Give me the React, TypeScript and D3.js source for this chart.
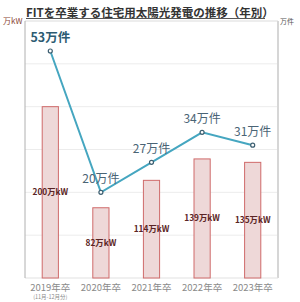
import React from "react";
import * as d3 from "d3";

const years = ["2019年卒", "2020年卒", "2021年卒", "2022年卒", "2023年卒"];
const subLabels = ["(11月-12月分)", "", "", "", ""];
const capacity = [200, 82, 114, 139, 135];
const counts = [53, 20, 27, 34, 31];
const leftTicks = [0, 50, 100, 150, 200, 250, 300];

const W = 300;
const H = 302;
const L = 25;
const R = 278;
const T = 21;
const B = 278;
const FONT = "'Noto Sans CJK JP', 'Noto Sans', sans-serif";

export default function App() {
  const x = d3.scaleBand<string>().domain(years).range([L, R]).padding(0);
  const yL = d3.scaleLinear().domain([0, 300]).range([B, T]);
  const yR = d3.scaleLinear().domain([0, 60]).range([B, T]);
  const bw = x.bandwidth() * 0.32;
  const cx = (d: string) => (x(d) as number) + x.bandwidth() / 2;
  const pts: [number, number][] = years.map((d, i) => [cx(d), yR(counts[i])]);
  const line = d3.line<[number, number]>()(pts) as string;

  return (
    <div style={{ position: "absolute", left: 0, top: 0 }}>
      <svg width={W} height={H} style={{ display: "block", fontFamily: FONT }}>
        <rect x={0} y={0} width={W} height={H} fill="#fff" />
        {leftTicks.slice(1, -1).map((t) => (
          <line key={t} x1={L} x2={R} y1={yL(t)} y2={yL(t)} stroke="#ececec" strokeWidth={1} />
        ))}
        <line x1={L} x2={R} y1={T} y2={T} stroke="#dcdcdc" strokeWidth={1.2} />
        <line x1={R} x2={R} y1={T} y2={B} stroke="#d6d6d6" strokeWidth={2} />
        <line x1={L} x2={R} y1={B} y2={B} stroke="#e2e2e2" strokeWidth={1.2} />
        <line x1={L} x2={L} y1={T} y2={B} stroke="#b0b0b0" strokeWidth={1} />

        {years.map((d, i) => (
          <rect
            key={d}
            x={cx(d) - bw / 2}
            y={yL(capacity[i])}
            width={bw}
            height={B - yL(capacity[i])}
            fill="#eed8d8"
            stroke="#cf6a6a"
            strokeWidth={1}
          />
        ))}
        {years.map((d, i) => (
          <text
            key={"c" + d}
            x={cx(d)}
            y={(yL(capacity[i]) + B) / 2 + 3}
            textAnchor="middle"
            fontSize={8.3}
            fontWeight={600}
            fill="#5a2424"
          >
            {capacity[i]}万kW
          </text>
        ))}

        <path d={line} fill="none" stroke="#45a6c0" strokeWidth={2} />
        {pts.map((p, i) => (
          <circle key={"p" + i} cx={p[0]} cy={p[1]} r={2} fill="#fff" stroke="#3c5e70" strokeWidth={1.2} />
        ))}
        {pts.map((p, i) => (
          <text
            key={"l" + i}
            x={p[0]}
            y={p[1] - 9}
            textAnchor="middle"
            fontSize={i === 0 ? 12.5 : 12}
            fontWeight={i === 0 ? 700 : 400}
            fill={i === 0 ? "#2d5b72" : "#4a6475"}
          >
            {counts[i]}万件
          </text>
        ))}

        {years.map((d, i) => (
          <g key={"x" + d}>
            <text x={cx(d)} y={290.5} textAnchor="middle" fontSize={9.5} fill="#8a8a8a">
              {d}
            </text>
            {subLabels[i] && (
              <text x={cx(d)} y={299} textAnchor="middle" fontSize={5.5} fill="#8a8a8a">
                {subLabels[i]}
              </text>
            )}
          </g>
        ))}

        <text x={26} y={16.5} fontSize={11.5} fontWeight={700} fill="#333">
          FITを卒業する住宅用太陽光発電の推移（年別）
        </text>
        <line x1={26} x2={265} y1={18.5} y2={18.5} stroke="#555" strokeWidth={1} />
        <text x={3} y={24} fontSize={8} fill="#8a4535">
          万kW
        </text>
        <text x={280} y={23.5} fontSize={7} fill="#555">
          万件
        </text>
      </svg>
    </div>
  );
}
